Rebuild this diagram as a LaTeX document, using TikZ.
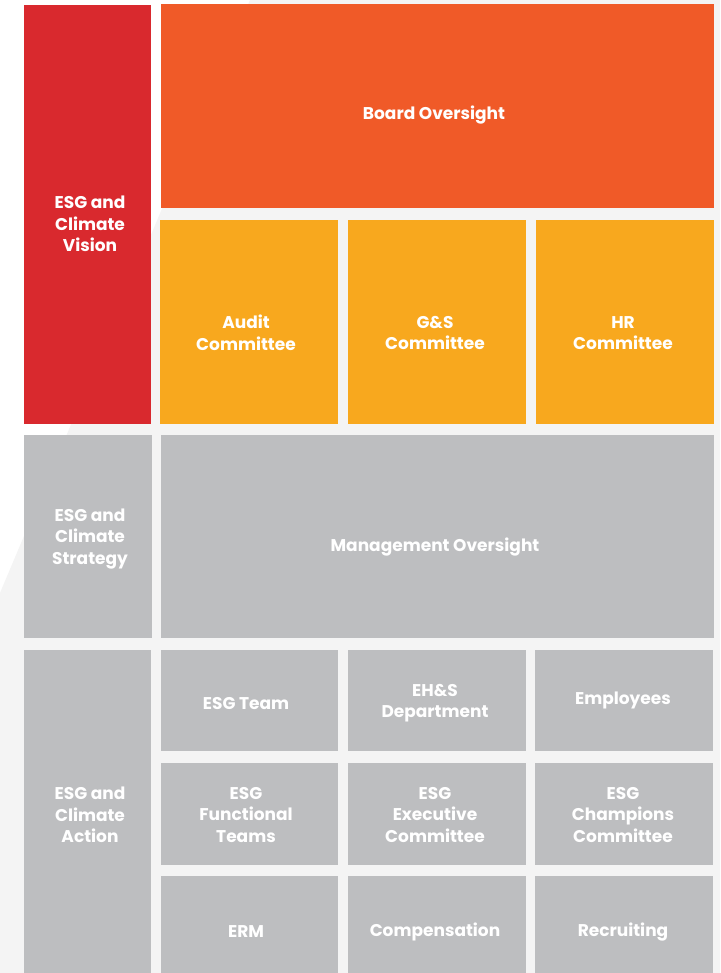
\documentclass[tikz,border=0pt]{standalone}
\usepackage{fontspec}
\setmainfont{Poppins}
\definecolor{cred}{HTML}{D9292E}
\definecolor{corange}{HTML}{F05A28}
\definecolor{cyellow}{HTML}{F8A81E}
\definecolor{cgray}{HTML}{BDBEC0}
\definecolor{cbg}{HTML}{F4F4F4}
\tikzset{
  box/.style={draw=none, inner sep=0pt, outer sep=0pt, rectangle},
  lbl/.style={text=white, align=center, inner sep=0pt, yshift=-2pt, font=\fontsize{17}{21.5}\selectfont\bfseries}
}
\newcommand\bx[6]{%
  \pgfmathsetmacro\bw{#4-#2}\pgfmathsetmacro\bh{#5-#3}%
  \pgfmathsetmacro\bcx{(#2+#4)/2}\pgfmathsetmacro\bcy{(#3+#5)/2}%
  \node[box,fill=#6,minimum width=\bw pt,minimum height=\bh pt] (#1) at (\bcx,\bcy) {};}
\begin{document}
\begin{tikzpicture}[x=1pt,y=-1pt]
\useasboundingbox (0,0) rectangle (720,973);
\fill[white] (0,0) rectangle (720,973);
\fill[cbg] (250,0) -- (720,0) -- (720,973) -- (0,973) -- (0,593) -- cycle;
\begin{scope}
\clip (0,0) rectangle (720,973);
\bx{vision}{24}{5}{151}{424}{cred}
\bx{board}{161}{4}{714}{208}{corange}
\bx{audit}{160}{220}{338}{424}{cyellow}
\bx{gs}{348}{220}{526}{424}{cyellow}
\bx{hr}{536}{220}{714}{424}{cyellow}
\bx{strat}{24}{435}{152}{638}{cgray}
\bx{mgmt}{161}{435}{714}{638}{cgray}
\bx{action}{24}{650}{151}{990}{cgray}
\bx{esgteam}{161}{650}{338}{751}{cgray}
\bx{ehs}{348}{650}{526}{751}{cgray}
\bx{empl}{535}{650}{713}{751}{cgray}
\bx{func}{161}{763}{338}{865}{cgray}
\bx{exec}{348}{763}{526}{865}{cgray}
\bx{champ}{535}{763}{713}{865}{cgray}
\bx{erm}{161}{876}{338}{990}{cgray}
\bx{comp}{348}{876}{526}{990}{cgray}
\bx{recr}{535}{876}{713}{990}{cgray}
\end{scope}
\node[lbl] (tvision) at (90,222) {ESG and\\Climate\\Vision};
\node[lbl] (tboard) at (434,113) {Board Oversight};
\node[lbl] (taudit) at (246,331) {Audit\\Committee};
\node[lbl] (tgs) at (435,331) {G\&S\\Committee};
\node[lbl] (thr) at (623,331) {HR\\Committee};
\node[lbl] (tstrat) at (90,537) {ESG and\\Climate\\Strategy};
\node[lbl] (tmgmt) at (435,545) {Management Oversight};
\node[lbl] (taction) at (90,813) {ESG and\\Climate\\Action};
\node[lbl] (tesgteam) at (246,702) {ESG Team};
\node[lbl] (tehs) at (435,701) {EH\&S\\Department};
\node[lbl] (templ) at (623,698) {Employees};
\node[lbl] (tfunc) at (246,813) {ESG\\Functional\\Teams};
\node[lbl] (texec) at (435,813) {ESG\\Executive\\Committee};
\node[lbl] (tchamp) at (623,813) {ESG\\Champions\\Committee};
\node[lbl] (term) at (246,930) {ERM};
\node[lbl] (tcomp) at (435,930) {Compensation};
\node[lbl] (trecr) at (623,930) {Recruiting};
\end{tikzpicture}
\end{document}
